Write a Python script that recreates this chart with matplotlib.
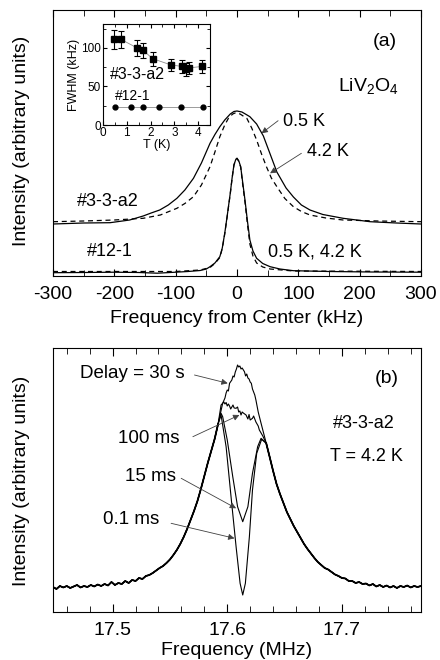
import numpy as np
import matplotlib
matplotlib.use('Agg')
import matplotlib.pyplot as plt
from matplotlib.ticker import MultipleLocator

plt.rcParams['font.family'] = ['Liberation Sans', 'DejaVu Sans']
plt.rcParams['mathtext.default'] = 'regular'

### Panel (a) data: frequency from center (kHz), intensity (arb.)
fa_solid = [-300, -250, -207, -175, -153, -140, -126, -112, -98, -85, -71, -58, -44, -36, -28, -20, -11, -5, 0,
            8, 15, 21, 32, 43, 54, 65, 80, 92, 105, 119, 140, 173, 217, 260, 300]
ia_solid = [52, 53, 53.3, 56, 60, 63, 66, 71, 77.7, 86, 97.7, 113, 132.7, 141.5, 149.3, 156, 162, 164.5, 165,
            164, 161.5, 159.3, 152, 140, 122, 104, 88, 79, 71, 66, 61.5, 57.7, 54.3, 53, 52]
fa_dash = [-300, -250, -200, -153, -125, -98, -85, -71, -58, -44, -36, -28, -20, -14, -7, -2,
           5, 10, 16, 24, 32, 40, 48, 56, 65, 78, 92, 105, 119, 145, 173, 230, 300]
ia_dash = [54.3, 55, 56, 57.7, 61, 67.7, 72.5, 79.3, 91, 109.3, 124, 139.3, 151, 157.7, 162, 163.3,
           162, 160, 157.7, 148, 136, 122, 109.3, 98, 89.3, 77.5, 69.3, 64.5, 61, 58, 56, 55, 54.3]
fn_solid = [-300, -250, -200, -160, -130, -100, -80, -60, -50, -44, -36, -28, -24, -20, -16, -11, -8, -5, -2, 0,
            3, 6, 9, 13, 17, 21, 26, 32, 42, 54, 70, 92, 150, 220, 300]
in_solid = [3.3, 3.5, 3.8, 3.5, 2.8, 3.8, 4.5, 5.5, 7, 9.3, 13, 19.3, 28, 42.7, 60, 82.7, 98, 111, 116.5, 117.7,
            115, 109.3, 95, 76, 55, 36, 25, 17.7, 12.5, 9.3, 7, 5.3, 4.5, 4, 3.8]
fn_dash = [-300, -200, -100, -60, -44, -36, -28, -24, -20, -16, -11, -8, -5, -2, 0,
           3, 6, 9, 13, 17, 21, 26, 32, 42, 54, 92, 300]
in_dash = [4.5, 4.5, 4.5, 6, 8.5, 12.5, 18.5, 27.5, 42, 59.5, 82, 97.5, 111, 116.5, 117.7,
           114.5, 109, 93, 74, 52, 32, 20, 13, 9, 7, 5, 4.5]

### Inset: FWHM vs T
t_a2 = [0.46, 0.76, 1.43, 1.68, 2.09, 2.85, 3.31, 3.47, 3.6, 4.18]
w_a2 = [111, 111, 100, 97, 86, 78, 76, 72, 74, 76]
e_a2 = [12, 11, 10, 10, 9, 8, 8, 8, 8, 8]
t_12 = [0.5, 1.18, 1.67, 2.37, 3.28, 4.2]
w_12 = [23, 23, 23, 23, 23, 23]

### Panel (b) data: frequency (MHz), intensity (arb.)
f_left = [17.448, 17.451, 17.454, 17.457, 17.460, 17.463, 17.466, 17.469, 17.472, 17.475,
          17.478, 17.481, 17.484, 17.487, 17.490, 17.493, 17.496, 17.499, 17.502, 17.505,
          17.508, 17.511, 17.514, 17.517, 17.520, 17.523, 17.526, 17.529, 17.532, 17.535,
          17.538, 17.541, 17.544, 17.547, 17.550, 17.553, 17.556, 17.559, 17.562, 17.565,
          17.568, 17.571, 17.574, 17.577, 17.580, 17.583, 17.586, 17.589, 17.592]
i_left = [25, 23, 26, 24.5, 26, 24, 25.5, 27, 24.5, 26,
          25, 27, 25.5, 27.5, 26, 28, 26.5, 30, 27, 29,
          28, 31, 29, 32, 31, 34, 33, 36, 37, 39,
          41.5, 44, 46, 49, 52.5, 57, 62, 68, 75, 83,
          92, 101, 111, 123, 136, 149, 161, 173, 188]
f_right = [17.634, 17.637, 17.640, 17.643, 17.646, 17.649, 17.652, 17.655, 17.658, 17.661,
           17.664, 17.667, 17.670, 17.673, 17.676, 17.679, 17.682, 17.685, 17.688, 17.691,
           17.694, 17.697, 17.700, 17.703, 17.706, 17.709, 17.712, 17.715, 17.718, 17.721,
           17.724, 17.727, 17.730, 17.733, 17.736, 17.739, 17.742, 17.745, 17.748, 17.751,
           17.754, 17.757, 17.760, 17.763, 17.766, 17.769]
i_right = [168.7, 155, 141, 128, 118, 109, 100, 93, 86, 80,
           74, 68, 63, 58.5, 54, 50, 47, 44, 42.5, 40,
           37.5, 36, 34, 33.5, 31, 31, 29, 30, 28, 28.5,
           26.5, 28, 25.5, 27, 25, 26.5, 24.5, 26, 24, 26,
           25, 26.5, 24.5, 26, 25, 26]
f_30s = [17.596, 17.598, 17.599, 17.600, 17.601, 17.602, 17.604, 17.605, 17.606, 17.607, 17.608, 17.609,
         17.610, 17.611, 17.612, 17.613, 17.615, 17.616, 17.617, 17.618, 17.619, 17.620, 17.621, 17.622,
         17.623, 17.624, 17.625, 17.627, 17.6295]
i_30s = [208.7, 214, 219, 222, 221, 228.7, 232, 236, 235, 240, 243, 247,
         245, 246, 243, 244, 240.3, 236, 238, 234, 233, 230, 228.7, 223,
         220, 217, 212, 200, 188.7]
f_100 = [17.5946, 17.597, 17.598, 17.599, 17.600, 17.601, 17.602, 17.603, 17.604, 17.605, 17.606, 17.6077,
         17.609, 17.610, 17.611, 17.612, 17.613, 17.614, 17.6164, 17.618, 17.619, 17.620, 17.622, 17.623,
         17.625, 17.627, 17.628, 17.631]
i_100 = [207, 210, 208, 209.5, 206, 208, 206, 203, 205, 207, 204, 203.7,
         205, 200, 201, 197, 200, 199, 197, 193, 197.5, 192, 193.7, 196,
         190, 186, 182, 176]
f_15 = [17.5946, 17.596, 17.600, 17.6048, 17.609, 17.6135, 17.618, 17.622, 17.6265, 17.6295]
i_15 = [198.7, 195.3, 172, 135.3, 105.3, 90.3, 105.3, 138.7, 165.3, 173.7]
f_01 = [17.5946, 17.599, 17.6033, 17.6077, 17.6112, 17.6135, 17.6158, 17.6193, 17.622, 17.6257, 17.630]
i_01 = [197, 165.3, 115.3, 65.3, 28.7, 17, 28.7, 75.3, 122, 158.7, 172.7]

W, H = 440, 660
fig = plt.figure(figsize=(4.4, 6.6), dpi=100)

def px_axes(left, top, right, bottom):
    return fig.add_axes([left / W, 1 - bottom / H, (right - left) / W, (bottom - top) / H])

arrow_kw = dict(arrowstyle='-|>', color='0.25', lw=0.6, mutation_scale=9, shrinkA=0, shrinkB=0)

### Panel (a)
ax = px_axes(53, 10, 421, 276)
ax.plot(fa_solid, ia_solid, color='k', lw=0.9)
ax.plot(fa_dash, ia_dash, color='k', lw=0.9, ls=(0, (4, 3)))
ax.plot(fn_solid, in_solid, color='k', lw=0.9)
ax.plot(fn_dash, in_dash, color='k', lw=0.9, ls=(0, (4, 3)))
ax.set_xlim(-300, 300)
ax.set_ylim(0, 266)
ax.set_yticks([])
ax.xaxis.set_minor_locator(MultipleLocator(50))
ax.tick_params(axis='x', which='both', direction='in', top=True, labelsize=14, pad=7)
ax.tick_params(axis='x', which='major', length=5)
ax.tick_params(axis='x', which='minor', length=4)
ax.set_xticks([-300, -200, -100, 0, 100, 200, 300])
ax.set_xticklabels(['-300', '-200', '-100', '0', '100', '200', '300'])
ax.text(241, 234, '(a)', fontsize=14, ha='center', va='center')
ax.text(165, 185, r'LiV$_2$O$_4$', fontsize=14, ha='left', va='baseline')
ax.text(-261, 74, '#3-3-a2', fontsize=13, ha='left', va='center')
ax.text(-245, 24, '#12-1', fontsize=13, ha='left', va='center')
ax.text(50, 24, '0.5 K, 4.2 K', fontsize=13, ha='left', va='center')
ax.text(75, 155, '0.5 K', fontsize=13, ha='left', va='center')
ax.annotate('', xy=(40, 142.7), xytext=(67, 155.3), arrowprops=arrow_kw)
ax.text(114, 124, '4.2 K', fontsize=13, ha='left', va='center')
ax.annotate('', xy=(54, 102.7), xytext=(105, 122.7), arrowprops=arrow_kw)
fig.text(237 / W, 1 - 323 / H, 'Frequency from Center (kHz)', fontsize=14, ha='center', va='baseline')
fig.text(22 / W, 1 - 141 / H, 'Intensity (arbitrary units)', fontsize=14, ha='center', va='center', rotation=90)

### Inset
axi = px_axes(103, 24, 210, 125)
axi.plot(t_a2, w_a2, color='0.55', lw=0.6)
axi.errorbar(t_a2, w_a2, yerr=e_a2, fmt='s', color='k', ms=4.5, elinewidth=0.8, capsize=2.2, capthick=0.8)
axi.plot(t_12, w_12, color='0.55', lw=0.6)
axi.plot(t_12, w_12, 'o', color='k', ms=3.5)
axi.set_xlim(0, 4.5)
axi.set_ylim(0, 131)
axi.xaxis.set_major_locator(MultipleLocator(1))
axi.xaxis.set_minor_locator(MultipleLocator(0.5))
axi.yaxis.set_major_locator(MultipleLocator(50))
axi.yaxis.set_minor_locator(MultipleLocator(25))
axi.tick_params(which='both', direction='in', top=True, right=True, labelsize=8.5, pad=1.5)
axi.tick_params(which='major', length=3)
axi.tick_params(which='minor', length=2)
axi.set_xlabel('T (K)', fontsize=9, labelpad=0)
axi.set_ylabel('FWHM (kHz)', fontsize=9, labelpad=1)
axi.text(0.29, 65, '#3-3-a2', fontsize=11.5, ha='left', va='center')
axi.text(0.5, 37, '#12-1', fontsize=10, ha='left', va='center')

### Panel (b)
bx = px_axes(53, 348, 421, 612)
for fc, ic in [(f_30s, i_30s), (f_100, i_100), (f_15, i_15), (f_01, i_01)]:
    bx.plot(f_left + fc + f_right, i_left + ic + i_right, color='k', lw=0.8)
bx.plot(f_left, i_left, color='k', lw=1.3)
bx.plot(f_right, i_right, color='k', lw=1.3)
bx.set_xlim(17.448, 17.769)
bx.set_ylim(0, 264)
bx.set_yticks([])
bx.xaxis.set_major_locator(MultipleLocator(0.1))
bx.xaxis.set_minor_locator(MultipleLocator(0.02))
bx.tick_params(axis='x', which='both', direction='in', top=True, labelsize=14, pad=7)
bx.tick_params(axis='x', which='major', length=6)
bx.tick_params(axis='x', which='minor', length=4)
bx.text(17.4713, 238.7, 'Delay = 30 s', fontsize=13.5, ha='left', va='center')
bx.annotate('', xy=(17.6004, 228.7), xytext=(17.5714, 237), arrowprops=arrow_kw)
bx.text(17.5046, 173.7, '100 ms', fontsize=13.5, ha='left', va='center')
bx.annotate('', xy=(17.6106, 197), xytext=(17.570, 175.3), arrowprops=arrow_kw)
bx.text(17.5105, 135.3, '15 ms', fontsize=13.5, ha='left', va='center')
bx.annotate('', xy=(17.6077, 103.7), xytext=(17.5598, 133.7), arrowprops=arrow_kw)
bx.text(17.4915, 92, '0.1 ms', fontsize=13.5, ha='left', va='center')
bx.annotate('', xy=(17.6063, 73.7), xytext=(17.551, 88.7), arrowprops=arrow_kw)
bx.text(17.739, 233.7, '(b)', fontsize=14, ha='center', va='center')
bx.text(17.7195, 188.7, '#3-3-a2', fontsize=13, ha='center', va='center')
bx.text(17.7217, 155.3, 'T = 4.2 K', fontsize=13, ha='center', va='center')
fig.text(237 / W, 1 - 655 / H, 'Frequency (MHz)', fontsize=14, ha='center', va='baseline')
fig.text(22 / W, 1 - 481 / H, 'Intensity (arbitrary units)', fontsize=14, ha='center', va='center', rotation=90)

plt.savefig('out.png', dpi=100)
